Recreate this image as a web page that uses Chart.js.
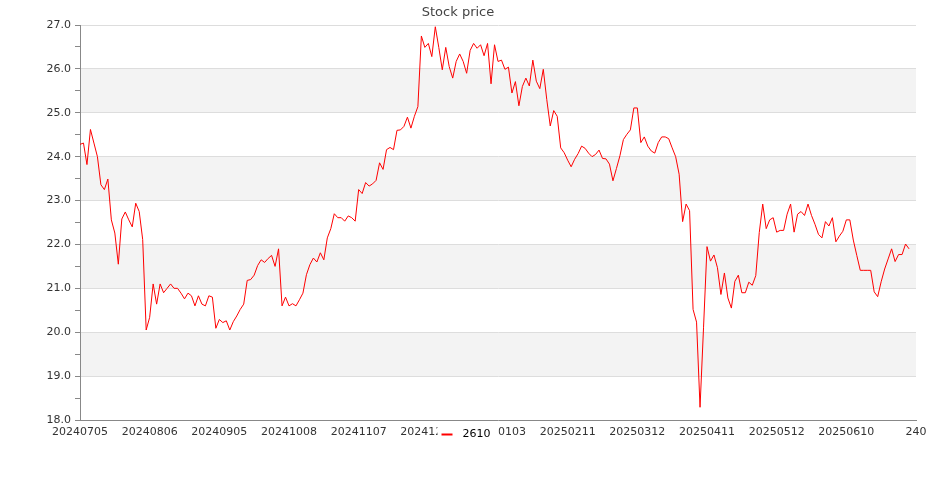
<!DOCTYPE html>
<html><head><meta charset="utf-8">
<script src="https://cdn.jsdelivr.net/npm/chart.js@4"></script>
<style>html,body{margin:0;padding:0;background:#fff}</style>
</head><body>
<canvas id="c" width="935" height="500"></canvas>
<script>
const chartTitle = 'Stock price';
const seriesName = '2610';
const tickLabels = ['20240705','20240806','20240905','20241008','20241107','20241205','20250103','20250211','20250312','20250411','20250512','20250610','240'];
const tickStep = 20;
const xMax = 240;
const yMin = 18, yMax = 27;
const shadedBands = [[19,20],[21,22],[23,24],[25,26]];
const prices = [
24.28,24.31,23.82,24.62,24.31,24.00,23.36,23.25,23.49,22.56,
22.26,21.55,22.58,22.74,22.56,22.40,22.94,22.75,22.11,20.05,
20.34,21.10,20.64,21.10,20.90,21.00,21.10,21.00,21.00,20.89,
20.76,20.89,20.83,20.60,20.83,20.64,20.60,20.83,20.80,20.09,
20.29,20.22,20.26,20.05,20.24,20.37,20.52,20.64,21.18,21.20,
21.30,21.52,21.65,21.59,21.68,21.75,21.50,21.90,20.60,20.80,
20.60,20.65,20.60,20.74,20.89,21.31,21.54,21.69,21.60,21.81,
21.65,22.15,22.36,22.70,22.61,22.61,22.53,22.65,22.61,22.53,
23.25,23.16,23.41,23.33,23.38,23.46,23.86,23.71,24.16,24.21,
24.16,24.60,24.61,24.69,24.90,24.65,24.92,25.14,26.75,26.49,
26.58,26.28,26.96,26.49,25.98,26.49,26.05,25.79,26.17,26.34,
26.17,25.90,26.42,26.58,26.47,26.55,26.30,26.58,25.66,26.55,
26.17,26.20,25.99,26.04,25.45,25.71,25.16,25.60,25.79,25.61,
26.20,25.72,25.55,25.99,25.30,24.70,25.05,24.92,24.20,24.09,
23.92,23.77,23.94,24.07,24.24,24.19,24.08,24.00,24.05,24.15,
23.96,23.95,23.83,23.45,23.73,24.02,24.39,24.51,24.61,25.11,
25.11,24.32,24.45,24.24,24.13,24.08,24.32,24.45,24.45,24.41,
24.20,24.00,23.60,22.52,22.92,22.77,20.52,20.23,18.29,20.10,
21.95,21.62,21.76,21.47,20.86,21.35,20.78,20.55,21.16,21.30,
20.90,20.90,21.14,21.07,21.29,22.27,22.92,22.36,22.56,22.61,
22.28,22.32,22.32,22.69,22.92,22.28,22.69,22.75,22.66,22.92,
22.66,22.46,22.23,22.15,22.52,22.42,22.61,22.06,22.19,22.30,
22.56,22.56,22.10,21.75,21.41,21.41,21.41,21.41,20.92,20.81,
21.15,21.44,21.67,21.90,21.61,21.77,21.77,22.01,21.90
];

Chart.defaults.font.family = 'DejaVu Sans';
Chart.defaults.font.size = 11;
Chart.defaults.color = '#333';

const bandPlugin = {
  id: 'bands',
  beforeDraw(chart) {
    const {ctx, chartArea: a, scales: {y}} = chart;
    ctx.save();
    ctx.fillStyle = '#f3f3f3';
    for (const [lo, hi] of shadedBands) {
      const t = y.getPixelForValue(hi), b = y.getPixelForValue(lo);
      ctx.fillRect(a.left, t, a.right - a.left, b - t);
    }
    ctx.restore();
  }
};

const legendPlugin = {
  id: 'overlayLegend',
  afterDraw(chart) {
    const {ctx, chartArea: a} = chart;
    const ds = chart.data.datasets[0];
    const cx = chart.width / 2;
    const ly = a.bottom + 14;
    ctx.save();
    ctx.fillStyle = '#fff';
    ctx.fillRect(cx - 30, ly - 8, 61, 16);
    ctx.strokeStyle = ds.borderColor;
    ctx.lineWidth = 2;
    ctx.beginPath();
    ctx.moveTo(cx - 26, ly + 0.5);
    ctx.lineTo(cx - 15, ly + 0.5);
    ctx.stroke();
    ctx.fillStyle = '#000';
    ctx.font = '11px "DejaVu Sans"';
    ctx.textBaseline = 'middle';
    ctx.textAlign = 'left';
    ctx.fillText(ds.label, cx - 5, ly);
    ctx.restore();
  }
};

new Chart(document.getElementById('c'), {
  type: 'line',
  data: {
    datasets: [{
      label: seriesName,
      data: prices.map((v, i) => ({x: i, y: v})),
      borderColor: '#ff0000',
      borderWidth: 1,
      pointRadius: 0,
      tension: 0,
      fill: false
    }]
  },
  options: {
    responsive: false,
    animation: false,
    devicePixelRatio: 1,
    layout: {padding: {left: 0, right: 19, top: 0, bottom: 0}},
    plugins: {
      legend: {display: false},
      tooltip: {enabled: false},
      title: {
        display: true,
        text: chartTitle,
        color: '#444',
        font: {size: 13, weight: 'normal', family: 'DejaVu Sans'},
        padding: {top: 5, bottom: 4.4}
      }
    },
    scales: {
      x: {
        type: 'linear',
        min: 0,
        max: xMax,
        grid: {display: false, drawTicks: false},
        border: {display: true, color: '#888', width: 1},
        ticks: {
          stepSize: tickStep,
          autoSkip: false,
          maxRotation: 0,
          padding: 6,
          color: '#333',
          callback: (v) => tickLabels[Math.round(v / tickStep)] ?? ''
        },
        afterFit: (s) => { s.height = 80; }
      },
      y: {
        min: yMin,
        max: yMax,
        grid: {
          color: (c) => (c.tick && Number.isInteger(c.tick.value)) ? '#dddddd' : 'rgba(0,0,0,0)',
          tickColor: '#888',
          tickLength: 5,
          drawTicks: true
        },
        border: {display: true, color: '#888', width: 1},
        ticks: {
          stepSize: 0.5,
          autoSkip: false,
          padding: 4,
          color: '#333',
          callback: (v) => Number.isInteger(v) ? v.toFixed(1) : ''
        },
        afterFit: (s) => { s.width = 80; }
      }
    }
  },
  plugins: [bandPlugin, legendPlugin]
});
</script>
</body></html>
